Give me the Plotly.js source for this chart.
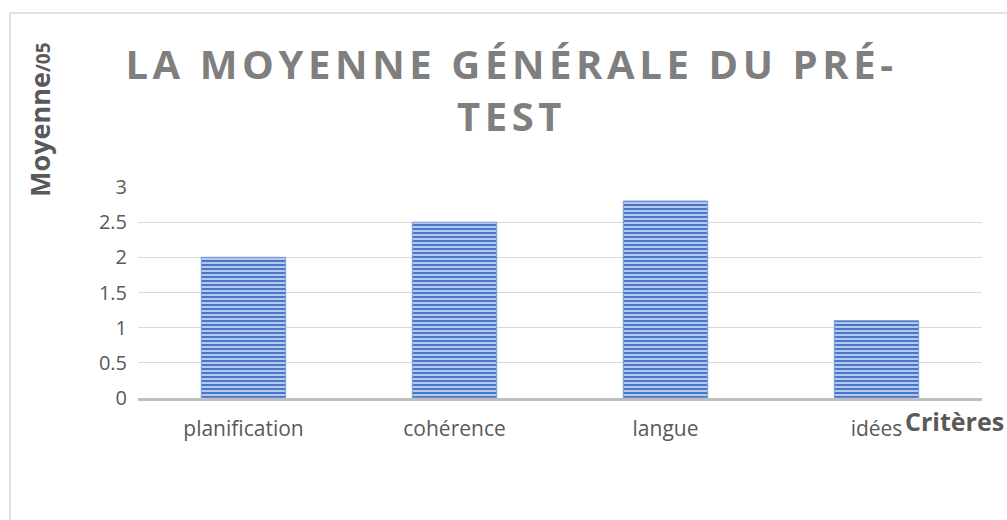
<!DOCTYPE html>
<html>
<head>
<meta charset="utf-8">
<script src="https://cdn.plot.ly/plotly-3.0.1.min.js"></script>
<style>
html,body{margin:0;padding:0;background:#fff;}
#chart{width:1007px;height:520px;}
.gtitle{letter-spacing:4.6px;}
</style>
</head>
<body>
<div id="chart"></div>
<script>
const categories = ["planification", "cohérence", "langue", "idées"];
const values = [2.0, 2.5, 2.8, 1.1];
const yTicks = [0, 0.5, 1, 1.5, 2, 2.5, 3];
const yTickLabels = ["0", "0.5", "1", "1.5", "2", "2.5", "3"];
const titleText = "LA MOYENNE GÉNÉRALE DU PRÉ-<br>TEST";
const yTitleText = "Moyenne<span style='font-size:19px'>/05</span>";
const xTitleText = "Critères";

const W = 1007, H = 520;
const m = {l: 138, r: 25, t: 187, b: 122};
const pw = W - m.l - m.r, ph = H - m.t - m.b;
const px = x => (x - m.l) / pw;
const py = y => (H - m.b - y) / ph;

const trace = {
  type: "bar",
  x: categories,
  y: values,
  marker: {
    color: "#a9c1ea",
    line: {color: "#7a9ad8", width: 1},
    pattern: {shape: "-", size: 4, solidity: 0.5, fgcolor: "#4a76c6", bgcolor: "#b4c9ee", fillmode: "replace"}
  },
  hoverinfo: "x+y"
};

const layout = {
  width: W, height: H,
  margin: m,
  paper_bgcolor: "#ffffff",
  plot_bgcolor: "#ffffff",
  showlegend: false,
  bargap: 0.6,
  font: {family: "Open Sans, sans-serif", color: "#595959"},
  title: {
    text: titleText,
    font: {family: "Open Sans, sans-serif", size: 40, weight: "bold", color: "#7f7f7f"},
    x: 0.508, xref: "container", xanchor: "center",
    y: 0.848, yref: "container", yanchor: "top"
  },
  xaxis: {
    type: "category",
    showgrid: false,
    showline: true, linecolor: "#bfbfbf", linewidth: 3,
    ticks: "", tickfont: {size: 21, color: "#595959"},
    ticklabelstandoff: 10,
    zeroline: false, fixedrange: true
  },
  yaxis: {
    range: [0, 3],
    tickvals: yTicks, ticktext: yTickLabels,
    showgrid: true, gridcolor: "#d9d9d9", gridwidth: 1,
    zeroline: false, showline: false,
    ticks: "", tickfont: {size: 20, color: "#595959"},
    ticklabelstandoff: 10, fixedrange: true
  },
  annotations: [
    {text: yTitleText, xref: "paper", yref: "paper", x: px(40), y: py(120),
     textangle: -90, showarrow: false, xanchor: "center", yanchor: "middle",
     font: {size: 27, weight: "bold", color: "#595959"}},
    {text: xTitleText, xref: "paper", yref: "paper", x: px(954), y: py(421),
     showarrow: false, xanchor: "center", yanchor: "middle",
     font: {size: 25, weight: "bold", color: "#595959"}}
  ],
  shapes: [
    {type: "rect", xref: "paper", yref: "paper", x0: px(10), y0: py(560), x1: px(1040), y1: py(13),
     line: {color: "#d9d9d9", width: 1.5}, fillcolor: "rgba(0,0,0,0)", layer: "below"}
  ]
};

Plotly.newPlot("chart", [trace], layout, {displayModeBar: false, staticPlot: true});
</script>
</body>
</html>
